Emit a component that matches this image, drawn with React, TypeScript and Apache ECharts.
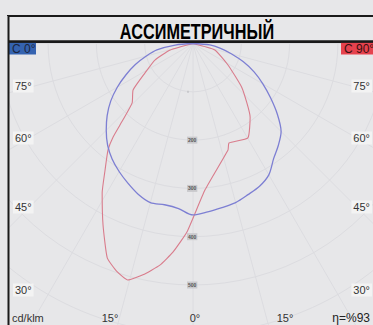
import React, { useEffect, useRef } from "react";
import * as echarts from "echarts";

// C 0° plane (blue): angle from nadir (deg, negative = left) and intensity (cd/klm)
const C0_ANGLES = [-90, -85, -80, -75, -70, -65, -60, -55, -50, -45, -40, -35, -30, -25, -20, -15, -10, -5, 0, 5, 10, 15, 20, 25, 30, 35, 40, 45, 50, 55, 60, 65, 70, 75, 80, 85, 90];
const C0_VALUES = [0, 37, 76, 100, 127, 153, 181, 208, 232, 254, 275, 292, 306, 319, 332, 341, 339, 343, 355, 350, 345, 341, 333, 326, 314, 291, 275, 258, 228, 196, 167, 140, 111, 82, 58, 35, 0];

// C 90° plane (red)
const C90_ANGLES = [-80, -74, -66.5, -58.4, -52.2, -45.7, -42.5, -40.5, -38.6, -34.8, -31.3, -26.4, -21.8, -18.4, -15.4, -12.2, -8.5, -5.5, -1.8, 4.7, 18.2, 19.9, 30.2, 37.8, 47.8, 58.4, 73.5, 80];
const C90_VALUES = [0, 49, 86, 117, 157, 176, 215, 255, 282, 319, 362, 419, 478, 498, 508, 490, 464, 434, 390, 304, 232, 219, 226, 193, 137, 85, 47, 0];

const RADIAL_TICKS = [200, 300, 400, 500];
const SIDE_LABELS = ["75°", "60°", "45°", "30°"];
const BOTTOM_LABELS = ["15°", "0°", "15°"];
const TITLE = "АССИМЕТРИЧНЫЙ";
const EFFICIENCY = "η=%93";
const UNIT = "cd/klm";

const BG = "#e7e7e9";

function toPolar(angles: number[], values: number[]) {
  return angles.map((a, i) => [values[i], a < 0 ? a + 360 : a]);
}

export default function App() {
  const ref = useRef<HTMLDivElement>(null);
  useEffect(() => {
    document.body.style.margin = "0";
    const chart = echarts.init(ref.current!, undefined, { renderer: "svg" });
    const sideY = [86, 138, 207, 290];
    const bottomX = [110, 195, 285];
    const labelFont = "Liberation Sans, Arial, sans-serif";
    const graphics: any[] = [
      // top strip and title box covering the grid
      { type: "rect", z: 100, shape: { x: 0, y: 0, width: 373, height: 16 }, style: { fill: BG } },
      { type: "rect", z: 100, shape: { x: 8, y: 16, width: 370, height: 26 }, style: { fill: BG, stroke: "#1a1a1a", lineWidth: 2 } },
      { type: "rect", z: 100, shape: { x: 0, y: 16, width: 8, height: 309 }, style: { fill: BG } },
      { type: "line", z: 101, shape: { x1: 8.5, y1: 16, x2: 8.5, y2: 325 }, style: { stroke: "#1a1a1a", lineWidth: 2 } },
      { type: "line", z: 101, shape: { x1: 8, y1: 41.5, x2: 373, y2: 41.5 }, style: { stroke: "#1a1a1a", lineWidth: 2.5 } },
      {
        type: "group", z: 102, x: 197, y: 31, scaleX: 0.74,
        children: [
          {
            type: "text", z: 102, x: 0, y: 0,
            style: { text: TITLE, fontFamily: "Liberation Sans, Arial, sans-serif", fontWeight: "bold", fontSize: 22, fill: "#000", align: "center", verticalAlign: "middle" },
          },
        ],
      },
      { type: "rect", z: 100, shape: { x: 9, y: 42.5, width: 27, height: 12 }, style: { fill: "#3563b0" } },
      { type: "text", z: 101, x: 12, y: 49, style: { text: "C 0°", fontFamily: labelFont, fontSize: 12, fill: "#1b2640", verticalAlign: "middle" } },
      { type: "rect", z: 100, shape: { x: 341, y: 42.5, width: 32, height: 12 }, style: { fill: "#e6424e" } },
      { type: "text", z: 101, x: 344, y: 49, style: { text: "C 90°", fontFamily: labelFont, fontSize: 12, fill: "#3a1010", verticalAlign: "middle" } },
    ];
    SIDE_LABELS.forEach((t, i) => {
      graphics.push({
        type: "text", z: 101, x: 13, y: sideY[i],
        style: { text: t, fontFamily: labelFont, fontSize: 11, fill: "#333", verticalAlign: "middle", backgroundColor: "#f3f3f3", padding: [1, 2] },
      });
      graphics.push({
        type: "text", z: 101, x: 372, y: sideY[i],
        style: { text: t, fontFamily: labelFont, fontSize: 11, fill: "#333", align: "right", verticalAlign: "middle", backgroundColor: "#f3f3f3", padding: [1, 2] },
      });
    });
    BOTTOM_LABELS.forEach((t, i) => {
      graphics.push({
        type: "text", z: 101, x: bottomX[i], y: 318,
        style: { text: t, fontFamily: labelFont, fontSize: 11, fill: "#333", align: "center", verticalAlign: "middle" },
      });
    });
    graphics.push({ type: "text", z: 101, x: 12, y: 318, style: { text: UNIT, fontFamily: labelFont, fontSize: 11, fill: "#333", verticalAlign: "middle" } });
    graphics.push({ type: "text", z: 101, x: 370, y: 318, style: { text: EFFICIENCY, fontFamily: labelFont, fontSize: 12, fill: "#222", align: "right", verticalAlign: "middle" } });

    chart.setOption({
      animation: false,
      backgroundColor: BG,
      polar: { center: [193, 43.5], radius: 386.4 },
      angleAxis: {
        type: "value", min: 0, max: 360, interval: 15, startAngle: 270, clockwise: false,
        axisLine: { show: false }, axisTick: { show: false }, axisLabel: { show: false },
        splitLine: { show: true, lineStyle: { color: "#dcdce0", width: 1 } },
      },
      radiusAxis: {
        type: "value", min: 0, max: 800, interval: 100,
        axisLine: { show: false }, axisTick: { show: false },
        axisLabel: {
          show: true, fontSize: 5, color: "#555", fontWeight: "bold", backgroundColor: "#c9c9cc", padding: [1, 1], margin: -6,
          formatter: (v: number) => (RADIAL_TICKS.includes(v) ? String(v) : ""),
        },
        splitLine: { show: true, lineStyle: { color: "#dcdce0", width: 1 } },
        z: 3,
      },
      series: [
        {
          type: "line", coordinateSystem: "polar", data: toPolar(C0_ANGLES, C0_VALUES),
          showSymbol: false, smooth: 0.3, lineStyle: { color: "#7d7fd3", width: 1.3 }, z: 5,
        },
        {
          type: "line", coordinateSystem: "polar", data: toPolar(C90_ANGLES, C90_VALUES),
          showSymbol: false, smooth: 0.15, lineStyle: { color: "#d97c8c", width: 1.1 }, z: 4,
        },
      ],
      graphic: graphics,
    });
    return () => chart.dispose();
  }, []);
  return <div ref={ref} style={{ width: 373, height: 325 }} />;
}
